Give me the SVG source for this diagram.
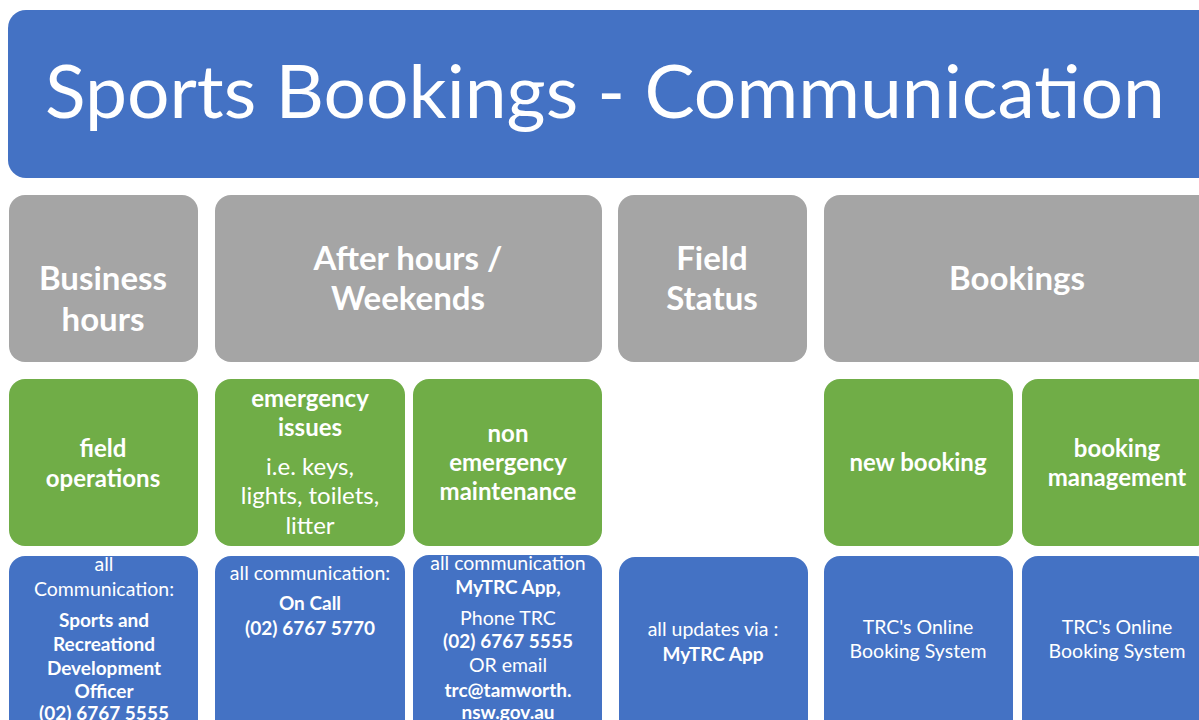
<svg xmlns="http://www.w3.org/2000/svg" width="1199" height="720" viewBox="0 0 1199 720">
<style>
text{font-family:Lato,"Open Sans","Liberation Sans",sans-serif;fill:#fff;text-anchor:middle}
.blue{fill:#4472C4}
.gray{fill:#A5A5A5}
.green{fill:#70AD47}
.h{font-size:33px;font-weight:bold}
.g{font-size:24px;font-weight:bold}
.gr{font-size:24px}
.b{font-size:19.5px}
.bb{font-size:19px;font-weight:bold}
</style>
<rect width="1199" height="720" fill="#fff"/>
<g id="title">
<rect class="blue" x="8" y="10" width="1215" height="168" rx="18"/>
<text x="605" y="118" font-size="74" textLength="1120" lengthAdjust="spacingAndGlyphs">Sports Bookings - Communication</text>
</g>
<g id="business-hours">
<rect class="gray" x="9" y="195" width="189" height="167" rx="16"/>
<text class="h" x="103" y="290">Business</text>
<text class="h" x="103" y="331">hours</text>
</g>
<g id="after-hours">
<rect class="gray" x="215" y="195" width="387" height="167" rx="16"/>
<text class="h" x="408" y="270">After hours /</text>
<text class="h" x="408" y="310">Weekends</text>
</g>
<g id="field-status">
<rect class="gray" x="618" y="195" width="189" height="167" rx="16"/>
<text class="h" x="712" y="270">Field</text>
<text class="h" x="712" y="310">Status</text>
</g>
<g id="bookings">
<rect class="gray" x="824" y="195" width="400" height="167" rx="16"/>
<text class="h" x="1017" y="290">Bookings</text>
</g>
<g id="field-operations">
<rect class="green" x="9" y="379" width="189" height="167" rx="16"/>
<text class="g" x="103" y="457">field</text>
<text class="g" x="103" y="487">operations</text>
</g>
<g id="emergency-issues">
<rect class="green" x="215" y="379" width="190" height="167" rx="16"/>
<text class="g" x="310" y="407">emergency</text>
<text class="g" x="310" y="436">issues</text>
<text class="gr" x="310" y="475">i.e. keys,</text>
<text class="gr" x="310" y="504">lights, toilets,</text>
<text class="gr" x="310" y="534">litter</text>
</g>
<g id="non-emergency">
<rect class="green" x="413" y="379" width="189" height="167" rx="16"/>
<text class="g" x="508" y="442">non</text>
<text class="g" x="508" y="471">emergency</text>
<text class="g" x="508" y="500">maintenance</text>
</g>
<g id="new-booking">
<rect class="green" x="824" y="379" width="189" height="167" rx="16"/>
<text class="g" x="918" y="471">new booking</text>
</g>
<g id="booking-management">
<rect class="green" x="1022" y="379" width="190" height="167" rx="16"/>
<text class="g" x="1117" y="457">booking</text>
<text class="g" x="1117" y="486">management</text>
</g>
<g id="business-contact">
<rect class="blue" x="9" y="556" width="189" height="180" rx="16"/>
<text class="b" x="104" y="571">all</text>
<text class="b" x="104" y="596">Communication:</text>
<text class="bb" x="104" y="627">Sports and</text>
<text class="bb" x="104" y="651">Recreationd</text>
<text class="bb" x="104" y="675">Development</text>
<text class="bb" x="104" y="698">Officer</text>
<text class="bb" x="104" y="720">(02) 6767 5555</text>
</g>
<g id="oncall-contact">
<rect class="blue" x="215" y="556" width="190" height="180" rx="16"/>
<text class="b" x="310" y="580">all communication:</text>
<text class="bb" x="310" y="610">On Call</text>
<text class="bb" x="310" y="635">(02) 6767 5770</text>
</g>
<g id="maintenance-contact">
<rect class="blue" x="413" y="555" width="189" height="180" rx="16"/>
<text class="b" x="508" y="570">all communication</text>
<text class="bb" x="508" y="594">MyTRC App,</text>
<text class="b" x="508" y="625">Phone TRC</text>
<text class="bb" x="508" y="648">(02) 6767 5555</text>
<text class="b" x="508" y="672">OR email</text>
<text class="bb" x="508" y="697">trc@tamworth.</text>
<text class="bb" x="508" y="719">nsw.gov.au</text>
</g>
<g id="status-contact">
<rect class="blue" x="619" y="557" width="189" height="180" rx="16"/>
<text class="b" x="713" y="636">all updates via :</text>
<text class="bb" x="713" y="661">MyTRC App</text>
</g>
<g id="new-booking-system">
<rect class="blue" x="824" y="556" width="189" height="180" rx="16"/>
<text class="b" x="918" y="634">TRC's Online</text>
<text class="b" x="918" y="658">Booking System</text>
</g>
<g id="management-system">
<rect class="blue" x="1022" y="556" width="190" height="180" rx="16"/>
<text class="b" x="1117" y="634">TRC's Online</text>
<text class="b" x="1117" y="658">Booking System</text>
</g>
<g id="connectors"></g>
</svg>
